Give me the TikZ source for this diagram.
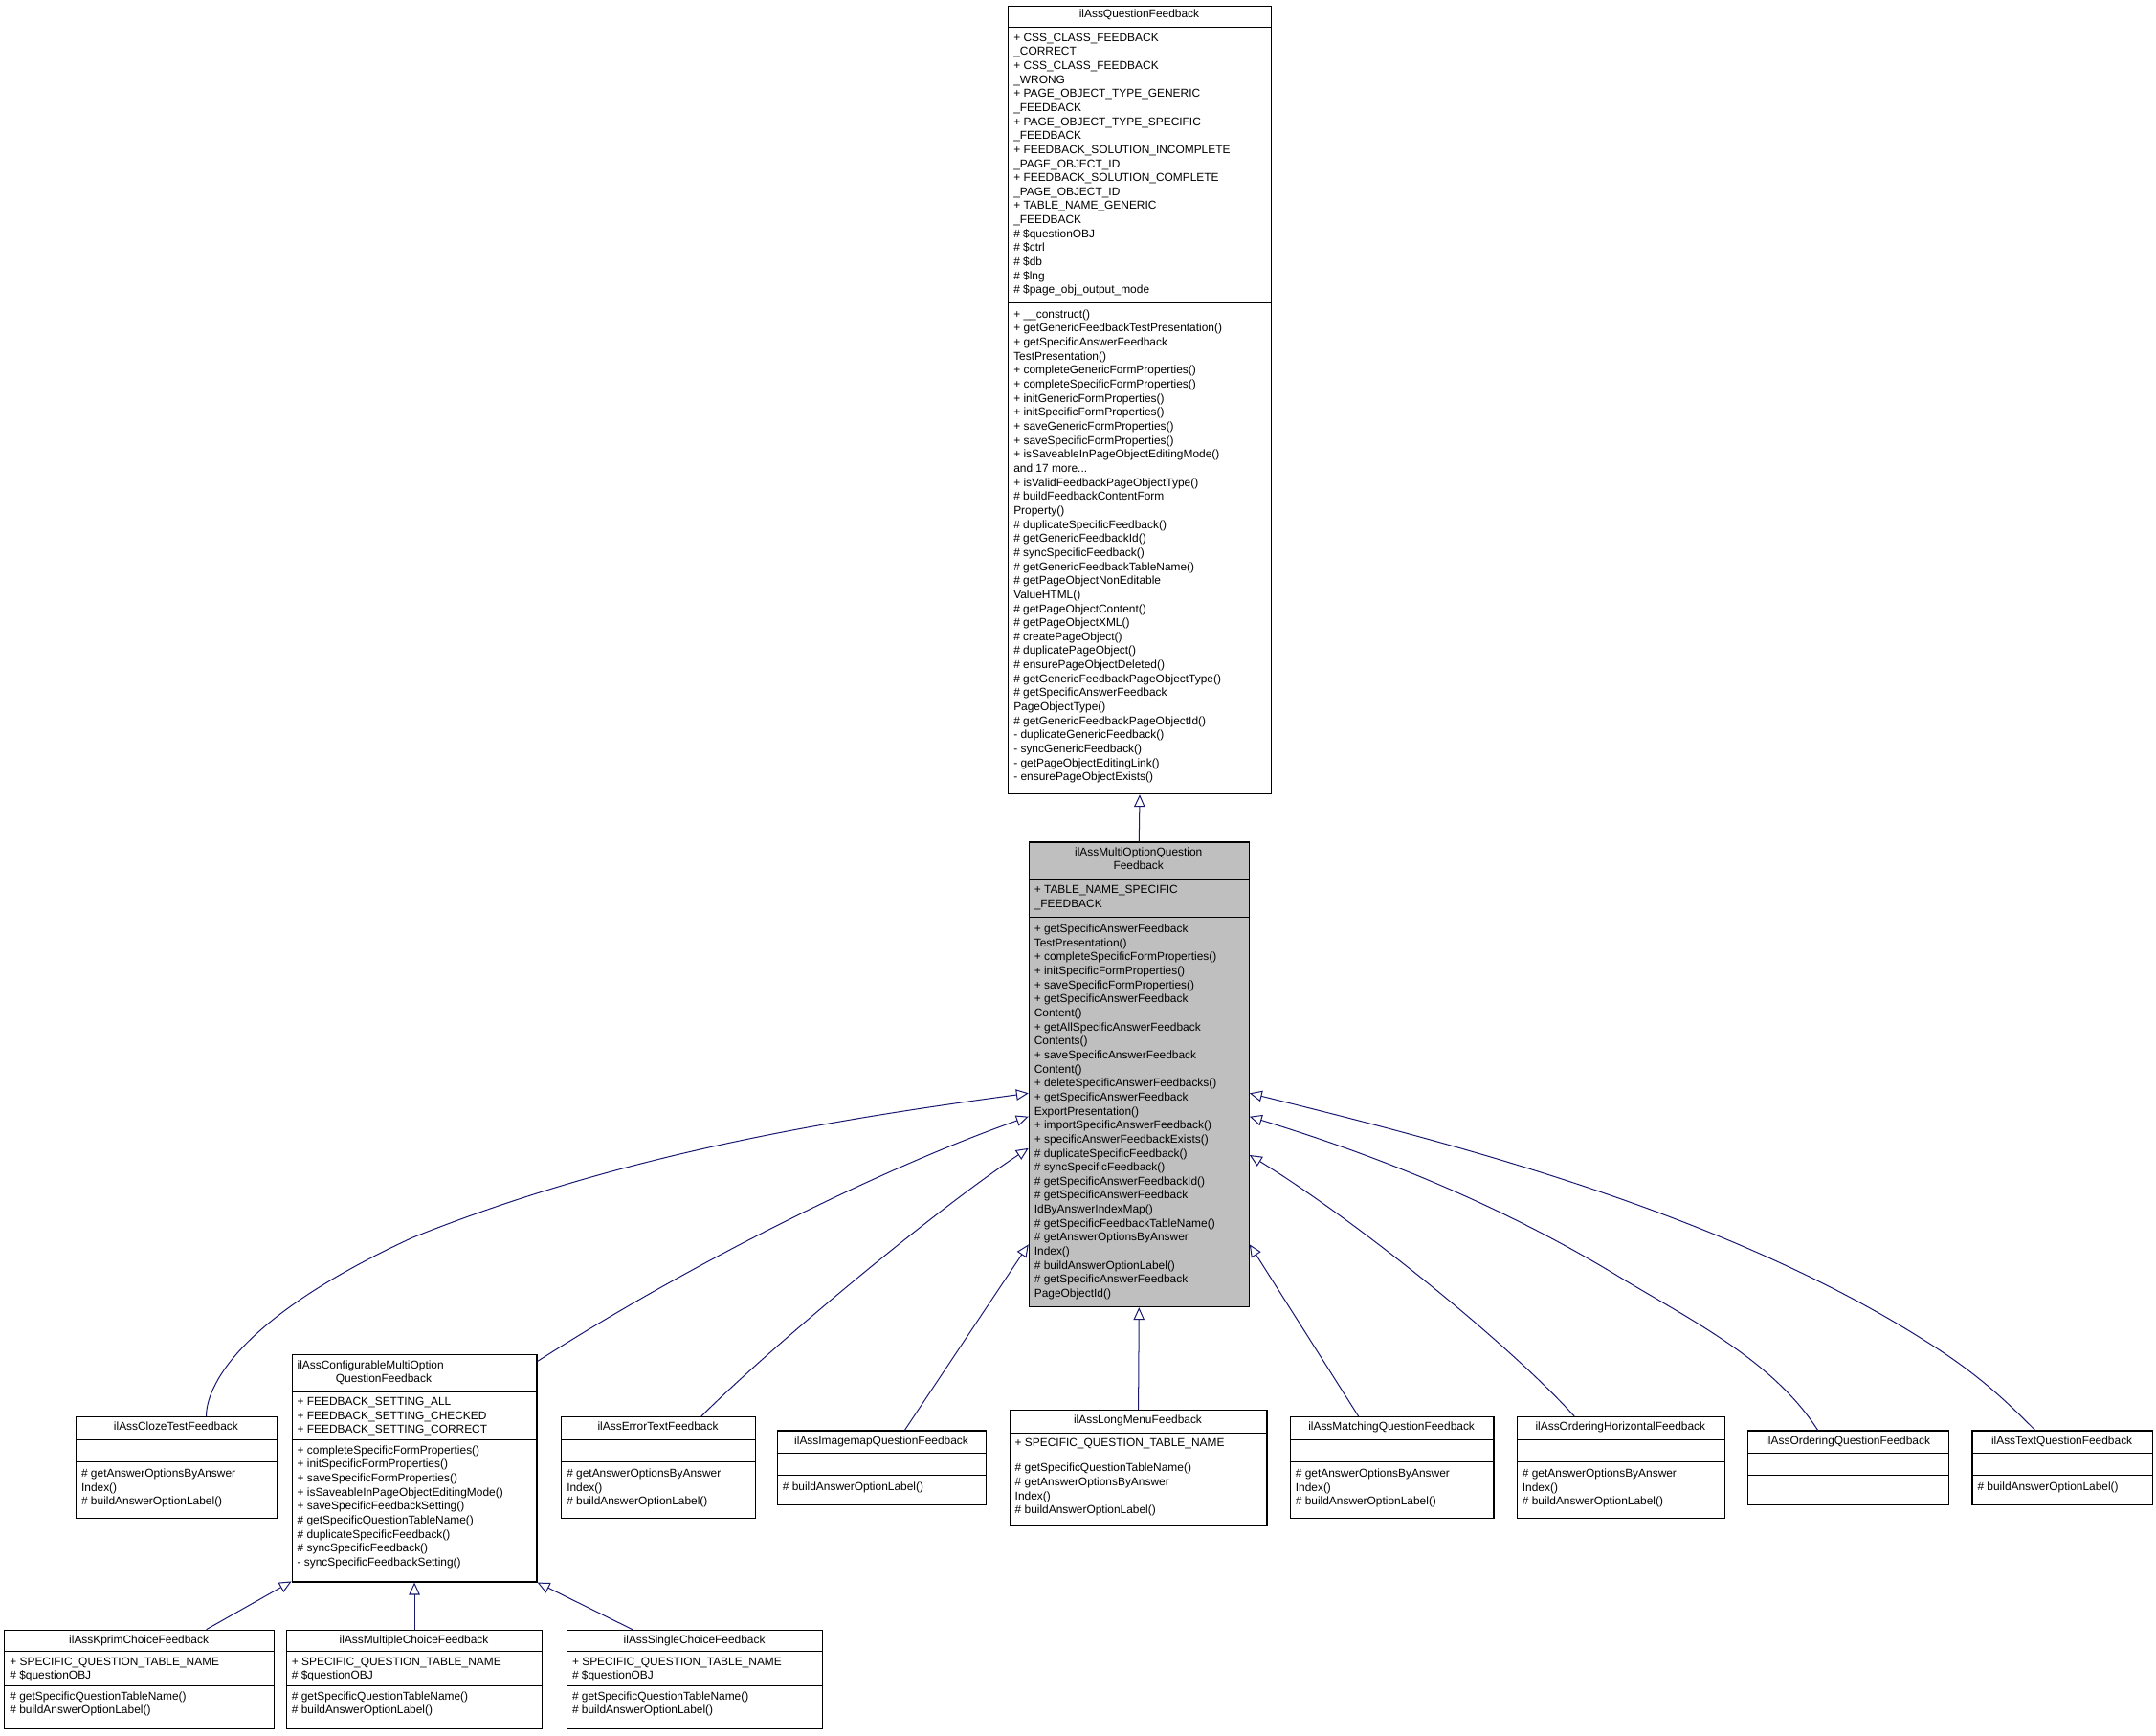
\documentclass[tikz,border=0pt]{standalone}
\usepackage{fontspec}
\setmainfont{Liberation Sans}
\usetikzlibrary{arrows.meta}
\definecolor{edge}{HTML}{191970}
\newcommand\umlbox[8]{%
 \node[draw,fill=#8,line width=0.8pt,anchor=north west,inner sep=0,minimum width=#4pt-#2pt,minimum height=#5pt-#3pt] (#1) at (#2,#3) {};
 \draw[line width=0.8pt] (#2,#6) -- (#4,#6) (#2,#7) -- (#4,#7);}
\newcommand\umltitle[3]{\node[anchor=north,align=center,txt] at (#1,#2) {#3};}
\newcommand\umltext[3]{\node[anchor=north west,align=left,txt] at (#1,#2) {#3};}
\begin{document}
\begin{tikzpicture}[x=1pt,y=-1pt,
 txt/.style={inner sep=0,font=\fontsize{8.3}{10.2}\selectfont},
 inh/.style={draw=edge,line width=0.7pt,-{Triangle[open,length=9pt,width=8pt]}}]
\useasboundingbox (0,0) rectangle (1568,1262);
% root
\umlbox{root}{733}{4}{924}{577}{20}{220}{white}
\umltitle{828.5}{7}{ilAssQuestionFeedback}
\umltext{737}{24}{+ CSS\_CLASS\_FEEDBACK\\\_CORRECT\\+ CSS\_CLASS\_FEEDBACK\\\_WRONG\\+ PAGE\_OBJECT\_TYPE\_GENERIC\\\_FEEDBACK\\+ PAGE\_OBJECT\_TYPE\_SPECIFIC\\\_FEEDBACK\\+ FEEDBACK\_SOLUTION\_INCOMPLETE\\\_PAGE\_OBJECT\_ID\\+ FEEDBACK\_SOLUTION\_COMPLETE\\\_PAGE\_OBJECT\_ID\\+ TABLE\_NAME\_GENERIC\\\_FEEDBACK\\\# \$questionOBJ\\\# \$ctrl\\\# \$db\\\# \$lng\\\# \$page\_obj\_output\_mode}
\umltext{737}{225}{+ \_\_construct()\\+ getGenericFeedbackTestPresentation()\\+ getSpecificAnswerFeedback\\TestPresentation()\\+ completeGenericFormProperties()\\+ completeSpecificFormProperties()\\+ initGenericFormProperties()\\+ initSpecificFormProperties()\\+ saveGenericFormProperties()\\+ saveSpecificFormProperties()\\+ isSaveableInPageObjectEditingMode()\\and 17 more...\\+ isValidFeedbackPageObjectType()\\\# buildFeedbackContentForm\\Property()\\\# duplicateSpecificFeedback()\\\# getGenericFeedbackId()\\\# syncSpecificFeedback()\\\# getGenericFeedbackTableName()\\\# getPageObjectNonEditable\\ValueHTML()\\\# getPageObjectContent()\\\# getPageObjectXML()\\\# createPageObject()\\\# duplicatePageObject()\\\# ensurePageObjectDeleted()\\\# getGenericFeedbackPageObjectType()\\\# getSpecificAnswerFeedback\\PageObjectType()\\\# getGenericFeedbackPageObjectId()\\- duplicateGenericFeedback()\\- syncGenericFeedback()\\- getPageObjectEditingLink()\\- ensurePageObjectExists()}
% multi option
\umlbox{mo}{748}{612}{908}{950}{640}{667}{black!25}
\umltitle{828}{616}{ilAssMultiOptionQuestion\\Feedback}
\umltext{752}{644}{+ TABLE\_NAME\_SPECIFIC\\\_FEEDBACK}
\umltext{752}{672}{+ getSpecificAnswerFeedback\\TestPresentation()\\+ completeSpecificFormProperties()\\+ initSpecificFormProperties()\\+ saveSpecificFormProperties()\\+ getSpecificAnswerFeedback\\Content()\\+ getAllSpecificAnswerFeedback\\Contents()\\+ saveSpecificAnswerFeedback\\Content()\\+ deleteSpecificAnswerFeedbacks()\\+ getSpecificAnswerFeedback\\ExportPresentation()\\+ importSpecificAnswerFeedback()\\+ specificAnswerFeedbackExists()\\\# duplicateSpecificFeedback()\\\# syncSpecificFeedback()\\\# getSpecificAnswerFeedbackId()\\\# getSpecificAnswerFeedback\\IdByAnswerIndexMap()\\\# getSpecificFeedbackTableName()\\\# getAnswerOptionsByAnswer\\Index()\\\# buildAnswerOptionLabel()\\\# getSpecificAnswerFeedback\\PageObjectId()}
% cloze
\umlbox{cloze}{55}{1030}{201}{1104}{1047}{1063}{white}
\umltitle{128}{1034}{ilAssClozeTestFeedback}
\umltext{59}{1068}{\# getAnswerOptionsByAnswer\\Index()\\\# buildAnswerOptionLabel()}
% configurable
\umlbox{conf}{212}{985}{390}{1150}{1012}{1047}{white}
\umltext{216}{989}{ilAssConfigurableMultiOption\\\hspace*{28pt}QuestionFeedback}
\umltext{216}{1016}{+ FEEDBACK\_SETTING\_ALL\\+ FEEDBACK\_SETTING\_CHECKED\\+ FEEDBACK\_SETTING\_CORRECT}
\umltext{216}{1051}{+ completeSpecificFormProperties()\\+ initSpecificFormProperties()\\+ saveSpecificFormProperties()\\+ isSaveableInPageObjectEditingMode()\\+ saveSpecificFeedbackSetting()\\\# getSpecificQuestionTableName()\\\# duplicateSpecificFeedback()\\\# syncSpecificFeedback()\\- syncSpecificFeedbackSetting()}
% error text
\umlbox{err}{408}{1030}{549}{1104}{1047}{1063}{white}
\umltitle{478.5}{1034}{ilAssErrorTextFeedback}
\umltext{412}{1068}{\# getAnswerOptionsByAnswer\\Index()\\\# buildAnswerOptionLabel()}
% imagemap
\umlbox{img}{565}{1040}{717}{1094}{1057}{1073}{white}
\umltitle{641}{1044}{ilAssImagemapQuestionFeedback}
\umltext{569}{1078}{\# buildAnswerOptionLabel()}
% long menu
\umlbox{lm}{734}{1025}{921}{1109}{1042}{1060}{white}
\umltitle{827.5}{1029}{ilAssLongMenuFeedback}
\umltext{738}{1046}{+ SPECIFIC\_QUESTION\_TABLE\_NAME}
\umltext{738}{1064}{\# getSpecificQuestionTableName()\\\# getAnswerOptionsByAnswer\\Index()\\\# buildAnswerOptionLabel()}
% matching
\umlbox{mat}{938}{1030}{1086}{1104}{1047}{1063}{white}
\umltitle{1012}{1034}{ilAssMatchingQuestionFeedback}
\umltext{942}{1068}{\# getAnswerOptionsByAnswer\\Index()\\\# buildAnswerOptionLabel()}
% ordering horizontal
\umlbox{oh}{1103}{1030}{1254}{1104}{1047}{1063}{white}
\umltitle{1178.5}{1034}{ilAssOrderingHorizontalFeedback}
\umltext{1107}{1068}{\# getAnswerOptionsByAnswer\\Index()\\\# buildAnswerOptionLabel()}
% ordering question
\umlbox{oq}{1271}{1040}{1417}{1094}{1057}{1073}{white}
\umltitle{1344}{1044}{ilAssOrderingQuestionFeedback}
% text question
\umlbox{tq}{1434}{1040}{1565}{1094}{1057}{1073}{white}
\umltitle{1499.5}{1044}{ilAssTextQuestionFeedback}
\umltext{1438}{1078}{\# buildAnswerOptionLabel()}
% kprim, multiple, single
\umlbox{kp}{3}{1185}{199}{1257}{1201}{1226}{white}
\umltitle{101}{1189}{ilAssKprimChoiceFeedback}
\umltext{7}{1205}{+ SPECIFIC\_QUESTION\_TABLE\_NAME\\\# \$questionOBJ}
\umltext{7}{1230}{\# getSpecificQuestionTableName()\\\# buildAnswerOptionLabel()}
\umlbox{mc}{208}{1185}{394}{1257}{1201}{1226}{white}
\umltitle{301}{1189}{ilAssMultipleChoiceFeedback}
\umltext{212}{1205}{+ SPECIFIC\_QUESTION\_TABLE\_NAME\\\# \$questionOBJ}
\umltext{212}{1230}{\# getSpecificQuestionTableName()\\\# buildAnswerOptionLabel()}
\umlbox{sc}{412}{1185}{598}{1257}{1201}{1226}{white}
\umltitle{505}{1189}{ilAssSingleChoiceFeedback}
\umltext{416}{1205}{+ SPECIFIC\_QUESTION\_TABLE\_NAME\\\# \$questionOBJ}
\umltext{416}{1230}{\# getSpecificQuestionTableName()\\\# buildAnswerOptionLabel()}
% connectors
\draw[inh] (mo.north) -- (root.south);
\draw[inh] (cloze.north -| 150,0) .. controls (150,1010) and (170,960) .. (300,900) .. controls (450,840) and (600,815) .. (mo.west |- 0,795);
\draw[inh] (conf.north east) ++(0,5) .. controls (500,920) and (640,850) .. (mo.west |- 0,812);
\draw[inh] (err.north -| 510,0) .. controls (560,980) and (680,880) .. (mo.west |- 0,835);
\draw[inh] (img.north -| 658,0) -- (mo.west |- 0,905);
\draw[inh] (lm.north) -- (mo.south);
\draw[inh] (mat.north -| 988,0) -- (mo.east |- 0,905);
\draw[inh] (oh.north -| 1145,0) .. controls (1100,980) and (990,890) .. (mo.east |- 0,840);
\draw[inh] (oq.north -| 1322,0) .. controls (1290,990) and (1230,960) .. (1180,930) .. controls (1090,875) and (1000,840) .. (mo.east |- 0,812);
\draw[inh] (tq.north -| 1480,0) .. controls (1460,1020) and (1440,1000) .. (1400,975) .. controls (1250,880) and (1050,830) .. (mo.east |- 0,795);
\draw[inh] (kp.north -| 150,0) -- (conf.south west |- 0,1150);
\draw[inh] (mc.north) -- (conf.south -| mc.north);
\draw[inh] (sc.north -| 460,0) -- (conf.south east);
\end{tikzpicture}
\end{document}
